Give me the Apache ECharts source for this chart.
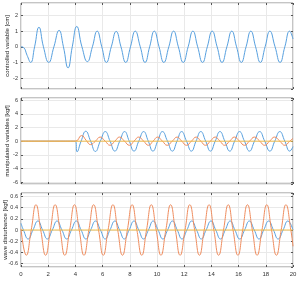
<!DOCTYPE html>
<html><head><meta charset="utf-8">
<script src="https://cdn.jsdelivr.net/npm/echarts@6/dist/echarts.min.js"></script>
<style>html,body{margin:0;padding:0;background:#fff}#c{width:300px;height:284px}</style>
</head><body><div id="c"></div>
<script>
// x tick labels
const xTicks = [0,2,4,6,8,10,12,14,16,18,20];
// panel 1: controlled variable [cm]
const ctrlT = [0,0.2,0.45,0.71,1.0,1.32,1.65,2.04,2.42,2.8,3.12,3.46,3.77,4.1,4.48,4.88,5.25,5.6,5.94,6.28,6.64,7.0,7.35,7.7,8.05,8.4,8.77,9.12,9.46,9.8,10.15,10.5,10.87,11.22,11.57,11.93,12.29,12.64,12.99,13.35,13.7,14.06,14.42,14.78,15.14,15.5,15.85,16.2,16.55,16.9,17.25,17.6,17.95,18.3,18.68,19.05,19.4,19.75,20];
const ctrlV = [0,-0.05,-0.55,-1.0,0,1.25,0,-1.0,0,1.05,0,-1.35,0,1.3,0,-0.95,0,1.0,0,-1.0,0,0.98,0,-1.0,0,1.0,0,-1.0,0,1.0,0,-1.0,0,1.0,0,-1.0,0,1.0,0,-1.0,0,1.0,0,-1.0,0,1.0,0,-1.0,0,1.0,0,-1.0,0,1.0,0,-1.0,0,1.0,0.5];
// panel 2: manipulated variables [kgf]
const manBlueT = [0,4.0,4.12,4.42,4.76,5.12,5.47,5.83,6.2,6.55,6.9,7.26,7.62,7.96,8.31,8.66,9.02,9.36,9.7,10.05,10.4,10.77,11.13,11.47,11.81,12.17,12.53,12.87,13.22,13.58,13.93,14.28,14.63,14.99,15.35,15.71,16.07,16.43,16.8,17.17,17.55,17.92,18.3,18.66,19.03,19.4,19.76,20];
const manBlueV = [0,0,-1.55,0,1.45,0,-1.5,0,1.4,0,-1.45,0,1.4,0,-1.45,0,1.4,0,-1.45,0,1.4,0,-1.45,0,1.4,0,-1.45,0,1.4,0,-1.45,0,1.4,0,-1.45,0,1.4,0,-1.45,0,1.4,0,-1.45,0,1.4,0,-1.45,-0.8];
const manOrangeT = [0,4.0,4.45,4.8,5.11,5.47,5.82,6.19,6.55,6.9,7.25,7.61,7.97,8.31,8.66,9.02,9.37,9.71,10.05,10.4,10.75,11.12,11.48,11.82,12.17,12.53,12.88,13.22,13.57,13.92,14.28,14.63,14.98,15.34,15.7,16.07,16.43,16.8,17.17,17.55,17.92,18.28,18.65,19.03,19.4,19.76,20];
const manOrangeV = [0,0,0.82,0.1,-0.5,0,0.6,0,-0.6,0,0.6,0,-0.6,0,0.6,0,-0.6,0,0.6,0,-0.6,0,0.6,0,-0.6,0,0.6,0,-0.6,0,0.6,0,-0.6,0,0.6,0,-0.6,0,0.6,0,-0.6,0,0.6,0,-0.6,0,0.4];
const manYellowT = [0,20];
const manYellowV = [0,0];
// panel 3: wave disturbance [kgf]
const waveOrangeT = [0,0.39,0.75,1.10,1.45,1.81,2.16,2.51,2.87,3.22,3.58,3.93,4.28,4.63,4.99,5.34,5.70,6.05,6.40,6.76,7.11,7.46,7.82,8.17,8.52,8.88,9.23,9.58,9.94,10.29,10.65,11.00,11.35,11.70,12.06,12.41,12.77,13.12,13.47,13.83,14.18,14.53,14.89,15.24,15.59,15.95,16.30,16.65,17.01,17.36,17.72,18.07,18.42,18.78,19.13,19.48,19.84,20];
const waveOrangeV = [0.02,-0.45,0,0.45,0,-0.45,0,0.45,0,-0.45,0,0.45,0,-0.45,0,0.45,0,-0.45,0,0.45,0,-0.45,0,0.45,0,-0.45,0,0.45,0,-0.45,0,0.45,0,-0.45,0,0.45,0,-0.45,0,0.45,0,-0.45,0,0.45,0,-0.45,0,0.45,0,-0.45,0,0.45,0,-0.45,0,0.45,0,-0.29];
const waveBlueT = [0,0.18,0.53,0.88,1.24,1.59,1.94,2.30,2.65,3.01,3.36,3.71,4.07,4.42,4.77,5.12,5.48,5.84,6.19,6.54,6.90,7.25,7.60,7.95,8.31,8.66,9.01,9.37,9.72,10.08,10.43,10.78,11.14,11.49,11.84,12.20,12.55,12.91,13.26,13.61,13.97,14.32,14.67,15.02,15.38,15.73,16.08,16.44,16.79,17.15,17.50,17.85,18.21,18.56,18.91,19.27,19.62,20];
const waveBlueV = [0.12,0,-0.16,0,0.16,0,-0.16,0,0.16,0,-0.16,0,0.16,0,-0.16,0,0.16,0,-0.16,0,0.16,0,-0.16,0,0.16,0,-0.16,0,0.16,0,-0.16,0,0.16,0,-0.16,0,0.16,0,-0.16,0,0.16,0,-0.16,0,0.16,0,-0.16,0,0.16,0,-0.16,0,0.16,0,-0.16,0,0.16,0];
const waveYellowT = [0,20];
const waveYellowV = [0,0];
// y axis titles and ranges
const yNames = ['controlled variable [cm]','manipulated variables [kgf]','wave disturbance [kgf]'];
const yMin = [-2.7,-6.25,-0.66];
const yMax = [2.8,6.3,0.66];
const ySplit = [5,6,7];

const BLUE='#57A0DF', ORANGE='#EF8B5C', YELLOW='#F2BE4A';
const pair=(T,V)=>T.map((t,i)=>[t,V[i]]);
const FONT='Liberation Sans';
const grids=[{top:3,height:86},{top:98,height:86},{top:193,height:74}].map(g=>Object.assign({left:21,right:7,containLabel:false,outerBoundsMode:'none',show:true,borderColor:'#8a8a8a',borderWidth:1,backgroundColor:'#fff'},g));
const xAxis=[],yAxis=[];
for(let i=0;i<3;i++){
  xAxis.push({type:'value',gridIndex:i,min:0,max:20,interval:2,axisLine:{show:false,onZero:false},
    axisTick:{inside:true,length:2,lineStyle:{color:'#555'}},
    splitLine:{show:true,lineStyle:{color:'#e9e9e9',width:1}},
    axisLabel:{show:i===2,fontSize:6,color:'#333',margin:4,fontFamily:FONT,formatter:v=>xTicks.includes(v)?String(v):''}});
  xAxis.push({type:'value',gridIndex:i,position:'top',min:0,max:20,interval:2,axisLine:{show:false,onZero:false},
    axisTick:{inside:true,length:2,lineStyle:{color:'#555'}},splitLine:{show:false},axisLabel:{show:false}});
  yAxis.push({type:'value',gridIndex:i,min:yMin[i],max:yMax[i],splitNumber:ySplit[i],axisLine:{show:false,onZero:false},
    axisTick:{inside:true,length:2,lineStyle:{color:'#555'}},
    splitLine:{show:true,lineStyle:{color:'#e9e9e9',width:1}},
    axisLabel:{fontSize:5.5,color:'#333',margin:3,fontFamily:FONT,showMinLabel:false,showMaxLabel:false},
    name:yNames[i],nameLocation:'middle',nameMoveOverlap:false,nameGap:i===2?12.5:11,nameTextStyle:{fontSize:6,color:'#222',fontFamily:FONT}});
  yAxis.push({type:'value',gridIndex:i,position:'right',min:yMin[i],max:yMax[i],splitNumber:ySplit[i],axisLine:{show:false,onZero:false},
    axisTick:{inside:true,length:2,lineStyle:{color:'#555'}},splitLine:{show:false},axisLabel:{show:false}});
}
const mk=(xi,yi,T,V,color)=>({type:'line',xAxisIndex:xi,yAxisIndex:yi,data:pair(T,V),showSymbol:false,smooth:0.5,
  lineStyle:{color,width:1},itemStyle:{color},animation:false,silent:true});
const series=[
  mk(0,0,ctrlT,ctrlV,BLUE),
  mk(2,2,manBlueT,manBlueV,BLUE),
  mk(2,2,manOrangeT,manOrangeV,ORANGE),
  mk(2,2,manYellowT,manYellowV,YELLOW),
  mk(4,4,waveBlueT,waveBlueV,BLUE),
  mk(4,4,waveOrangeT,waveOrangeV,ORANGE),
  mk(4,4,waveYellowT,waveYellowV,YELLOW)
];
const chart=echarts.init(document.getElementById('c'),null,{renderer:'canvas'});
chart.setOption({animation:false,grid:grids,xAxis,yAxis,series});
</script></body></html>
